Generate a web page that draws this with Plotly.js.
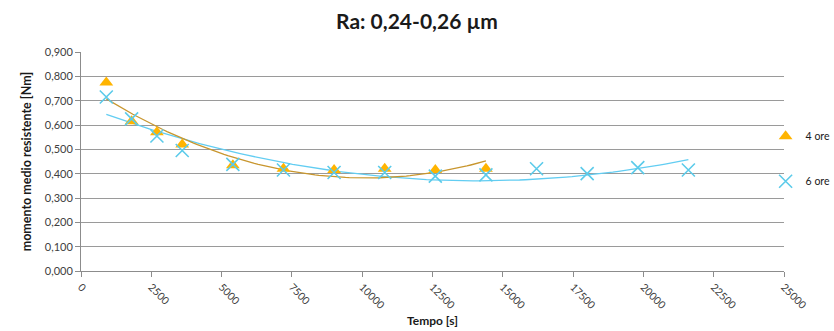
<!DOCTYPE html>
<html><head><meta charset="utf-8">
<script src="https://cdn.plot.ly/plotly-3.0.1.min.js"></script>
<style>html,body{margin:0;padding:0;background:#fff}#chart{width:834px;height:331px}</style>
</head><body><div id="chart"></div>
<script>
const time4 = [900, 1800, 2700, 3600, 5400, 7200, 9000, 10800, 12600, 14400];
const ore4 = [0.775, 0.615, 0.570, 0.520, 0.435, 0.420, 0.415, 0.420, 0.415, 0.420];
const time6 = [900, 1800, 2700, 3600, 5400, 7200, 9000, 10800, 12600, 14400, 16200, 18000, 19800, 21600];
const ore6 = [0.715, 0.625, 0.555, 0.495, 0.438, 0.415, 0.405, 0.405, 0.390, 0.395, 0.420, 0.400, 0.425, 0.415];
const xTicks = [0, 2500, 5000, 7500, 10000, 12500, 15000, 17500, 20000, 22500, 25000];
const yTicks = [0, 0.1, 0.2, 0.3, 0.4, 0.5, 0.6, 0.7, 0.8, 0.9];

function polyFit2(xs, ys) {
  const s = [0,0,0,0,0], t = [0,0,0];
  for (let i = 0; i < xs.length; i++) {
    const x = xs[i] / 10000, y = ys[i];
    let p = 1;
    for (let k = 0; k < 5; k++) { s[k] += p; if (k < 3) t[k] += p * y; p *= x; }
  }
  const A = [[s[0],s[1],s[2],t[0]],[s[1],s[2],s[3],t[1]],[s[2],s[3],s[4],t[2]]];
  for (let i = 0; i < 3; i++) {
    for (let j = i+1; j < 3; j++) {
      const f = A[j][i] / A[i][i];
      for (let k = i; k < 4; k++) A[j][k] -= f * A[i][k];
    }
  }
  const c = [0,0,0];
  for (let i = 2; i >= 0; i--) {
    let v = A[i][3];
    for (let k = i+1; k < 3; k++) v -= A[i][k] * c[k];
    c[i] = v / A[i][i];
  }
  return c;
}
function trend(xs, ys) {
  const c = polyFit2(xs, ys);
  const x0 = xs[0], x1 = xs[xs.length-1];
  const tx = [], ty = [];
  for (let i = 0; i <= 100; i++) {
    const x = x0 + (x1 - x0) * i / 100, u = x / 10000;
    tx.push(x); ty.push(c[0] + c[1]*u + c[2]*u*u);
  }
  return {x: tx, y: ty};
}
const t4 = trend(time4, ore4), t6 = trend(time6, ore6);

const data = [
  {x: t6.x, y: t6.y, mode: 'lines', line: {color: '#62cdf2', width: 1.3}, showlegend: false, hoverinfo: 'skip'},
  {x: t4.x, y: t4.y, mode: 'lines', line: {color: '#c8962e', width: 1.3}, showlegend: false, hoverinfo: 'skip'},
  {x: time4, y: ore4, mode: 'markers', name: '4 ore', legendgroup: 'a',
   marker: {symbol: 'triangle-up', size: 12, color: '#ffb400'}},
  {x: time6, y: ore6, mode: 'markers', name: '6 ore', legendgroup: 'b',
   marker: {symbol: 'x-thin', size: 13, color: '#5ccbea', line: {color: '#5ccbea', width: 1.6}}}
];

const layout = {
  width: 834, height: 331,
  margin: {l: 81, r: 50, t: 52, b: 60, autoexpand: false},
  paper_bgcolor: '#fff', plot_bgcolor: '#fff',
  separators: ',.',
  font: {family: 'Lato, "Open Sans", sans-serif', color: '#404040'},
  title: {text: '<b>Ra: 0,24-0,26 µm</b>', x: 438, xref: 'container', xanchor: 'center',
          y: 0.935, yref: 'container', yanchor: 'middle',
          font: {size: 21, color: '#1a1a1a', family: 'Lato, "Open Sans", sans-serif'}},
  xaxis: {range: [0, 25000], tickvals: xTicks, ticktext: xTicks.map(String), tickangle: 45,
          showgrid: false, zeroline: false, showline: true, linecolor: '#8c8c8c', linewidth: 1,
          ticks: 'outside', ticklen: 5, tickcolor: '#8c8c8c', tickfont: {size: 10.5, color: '#404040'},
          title: {text: '<b>Tempo [s]</b>', font: {size: 12, color: '#1a1a1a'}, standoff: 6}},
  yaxis: {range: [0, 0.9], tickvals: yTicks, tickformat: '.3f', showgrid: true, gridcolor: '#9a9a9a', gridwidth: 1,
          zeroline: false, showline: true, linecolor: '#8c8c8c', linewidth: 1,
          ticks: 'outside', ticklen: 5, tickcolor: '#8c8c8c', tickfont: {size: 11, color: '#404040'},
          title: {text: '<b>momento medio resistente [Nm]</b>', font: {size: 12.5, color: '#1a1a1a'}, standoff: 10}},
  legend: {xref: 'container', yref: 'container', x: 0.918, xanchor: 'left', y: 0.632, yanchor: 'top',
           traceorder: 'grouped', tracegroupgap: 26, itemwidth: 30,
           font: {size: 10.5, color: '#1a1a1a'}, bgcolor: 'rgba(0,0,0,0)'},
  showlegend: true
};
Plotly.newPlot('chart', data, layout, {displayModeBar: false, staticPlot: true});
</script></body></html>
